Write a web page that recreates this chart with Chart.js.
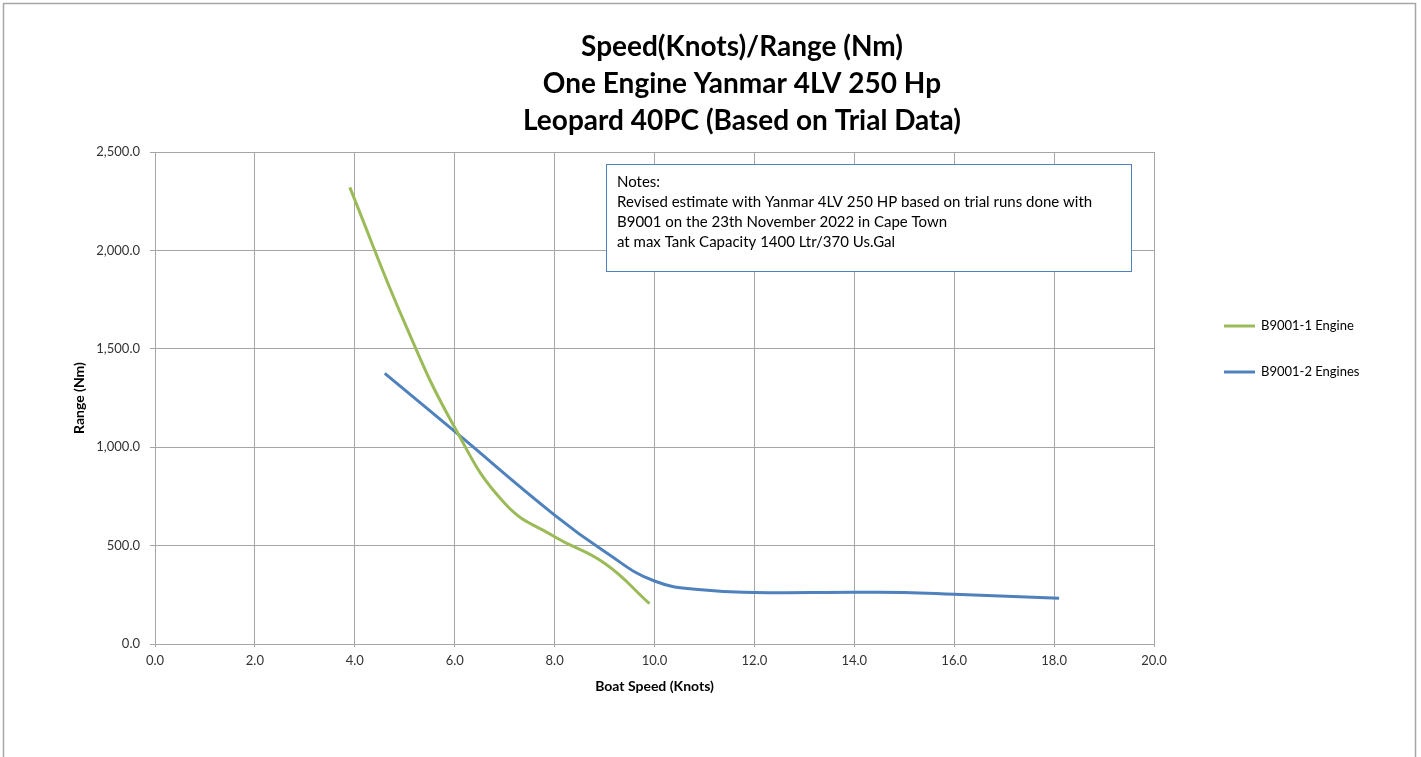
<!DOCTYPE html>
<html>
<head>
<meta charset="utf-8">
<title>Speed/Range</title>
<script src="https://cdn.jsdelivr.net/npm/chart.js@4.4.1/dist/chart.umd.min.js"></script>
<style>
    html, body { margin: 0; padding: 0; background: #fff; }
    #wrap { width: 1421px; height: 757px; }
</style>
</head>
<body>
<div id="wrap"><canvas id="rangeChart" width="1421" height="757"></canvas></div>
<script>
// values
const speedOneEngine = [3.9, 5.0, 6.0, 7.0, 8.0, 9.0, 9.9];
const rangeOneEngine = [2320, 1630, 1100, 715, 545, 410, 205];
const speedTwoEngines = [4.6, 6.0, 8.0, 9.0, 10.0, 11.0, 12.0, 14.0, 15.0, 16.0, 18.1];
const rangeTwoEngines = [1375, 1080, 655, 470, 320, 274, 262, 263, 262, 253, 233];
const seriesNames = ['B9001-1 Engine', 'B9001-2 Engines'];
const titleLines = ['Speed(Knots)/Range (Nm)', 'One Engine Yanmar 4LV 250 Hp', 'Leopard 40PC (Based on Trial Data)'];
const noteLines = ['Notes:', 'Revised estimate with Yanmar 4LV 250 HP based on trial runs done with',
    'B9001 on the 23th November 2022 in Cape Town', 'at max Tank Capacity 1400 Ltr/370 Us.Gal'];

const FONT = 'Lato, "Open Sans", sans-serif';
const GRID = '#a6a6a6';

function toPoints(xs, ys) {
    return xs.map(function (x, i) { return { x: x, y: ys[i] }; });
}

const decor = {
    id: 'decor',
    beforeDraw: function (chart) {
        const ctx = chart.ctx;
        ctx.save();
        ctx.strokeStyle = '#a6a6a6';
        ctx.lineWidth = 1.5;
        ctx.beginPath();
        ctx.moveTo(3.5, 760);
        ctx.lineTo(3.5, 3.5);
        ctx.lineTo(1415.5, 3.5);
        ctx.lineTo(1415.5, 760);
        ctx.stroke();
        ctx.restore();
    },
    afterDraw: function (chart) {
        const ctx = chart.ctx;
        ctx.save();
        // title
        ctx.fillStyle = '#000';
        ctx.font = 'bold 28px ' + FONT;
        ctx.textAlign = 'center';
        ctx.textBaseline = 'middle';
        titleLines.forEach(function (t, i) { ctx.fillText(t, 742, 47 + i * 37); });

        // notes box
        ctx.fillStyle = '#fff';
        ctx.fillRect(606, 164, 525, 107);
        ctx.strokeStyle = '#4f81bd';
        ctx.lineWidth = 1;
        ctx.strokeRect(606.5, 164.5, 525, 107);
        ctx.fillStyle = '#000';
        ctx.font = '15px ' + FONT;
        ctx.textAlign = 'left';
        noteLines.forEach(function (t, i) { ctx.fillText(t, 617, 182 + i * 20); });

        // legend
        ctx.font = '13px ' + FONT;
        chart.data.datasets.forEach(function (ds, i) {
            const y = 326 + i * 46;
            ctx.strokeStyle = ds.borderColor;
            ctx.lineWidth = 3;
            ctx.beginPath();
            ctx.moveTo(1224, y);
            ctx.lineTo(1255, y);
            ctx.stroke();
            ctx.fillStyle = '#000';
            ctx.fillText(ds.label, 1261, y);
        });
        ctx.restore();
    }
};

new Chart(document.getElementById('rangeChart'), {
    type: 'scatter',
    data: {
        datasets: [
            { label: seriesNames[0], data: toPoints(speedOneEngine, rangeOneEngine), borderColor: '#9bbb59', backgroundColor: '#9bbb59' },
            { label: seriesNames[1], data: toPoints(speedTwoEngines, rangeTwoEngines), borderColor: '#4f81bd', backgroundColor: '#4f81bd' }
        ]
    },
    options: {
        responsive: false,
        animation: false,
        showLine: true,
        elements: {
            point: { radius: 0, hoverRadius: 0 },
            line: { borderWidth: 3, tension: 0.45 }
        },
        layout: { padding: { top: 152, right: 267, left: 0, bottom: 0 } },
        plugins: {
            legend: { display: false },
            tooltip: { enabled: false }
        },
        scales: {
            x: {
                type: 'linear', min: 0, max: 20,
                afterFit: function (s) { s.height = 113; },
                ticks: {
                    stepSize: 2, padding: 6, color: '#333',
                    font: { family: FONT, size: 13 },
                    callback: function (v) { return v.toFixed(1); }
                },
                grid: { color: GRID, tickLength: 3 },
                border: { color: GRID },
                title: {
                    display: true, text: 'Boat Speed (Knots)', color: '#000',
                    font: { family: FONT, size: 14, weight: 'bold' },
                    padding: { top: 0, bottom: 62 }
                }
            },
            y: {
                min: 0, max: 2500,
                afterFit: function (s) { s.width = 155; },
                ticks: {
                    stepSize: 500, padding: 10, color: '#333',
                    font: { family: FONT, size: 13 },
                    callback: function (v) {
                        return v.toLocaleString('en-US', { minimumFractionDigits: 1, maximumFractionDigits: 1 });
                    }
                },
                grid: { color: GRID, tickLength: 5 },
                border: { color: GRID },
                title: {
                    display: true, text: 'Range (Nm)', color: '#000',
                    font: { family: FONT, size: 14, weight: 'bold' },
                    padding: { top: 71, bottom: 0 }
                }
            }
        }
    },
    plugins: [decor]
});
</script>
</body>
</html>
